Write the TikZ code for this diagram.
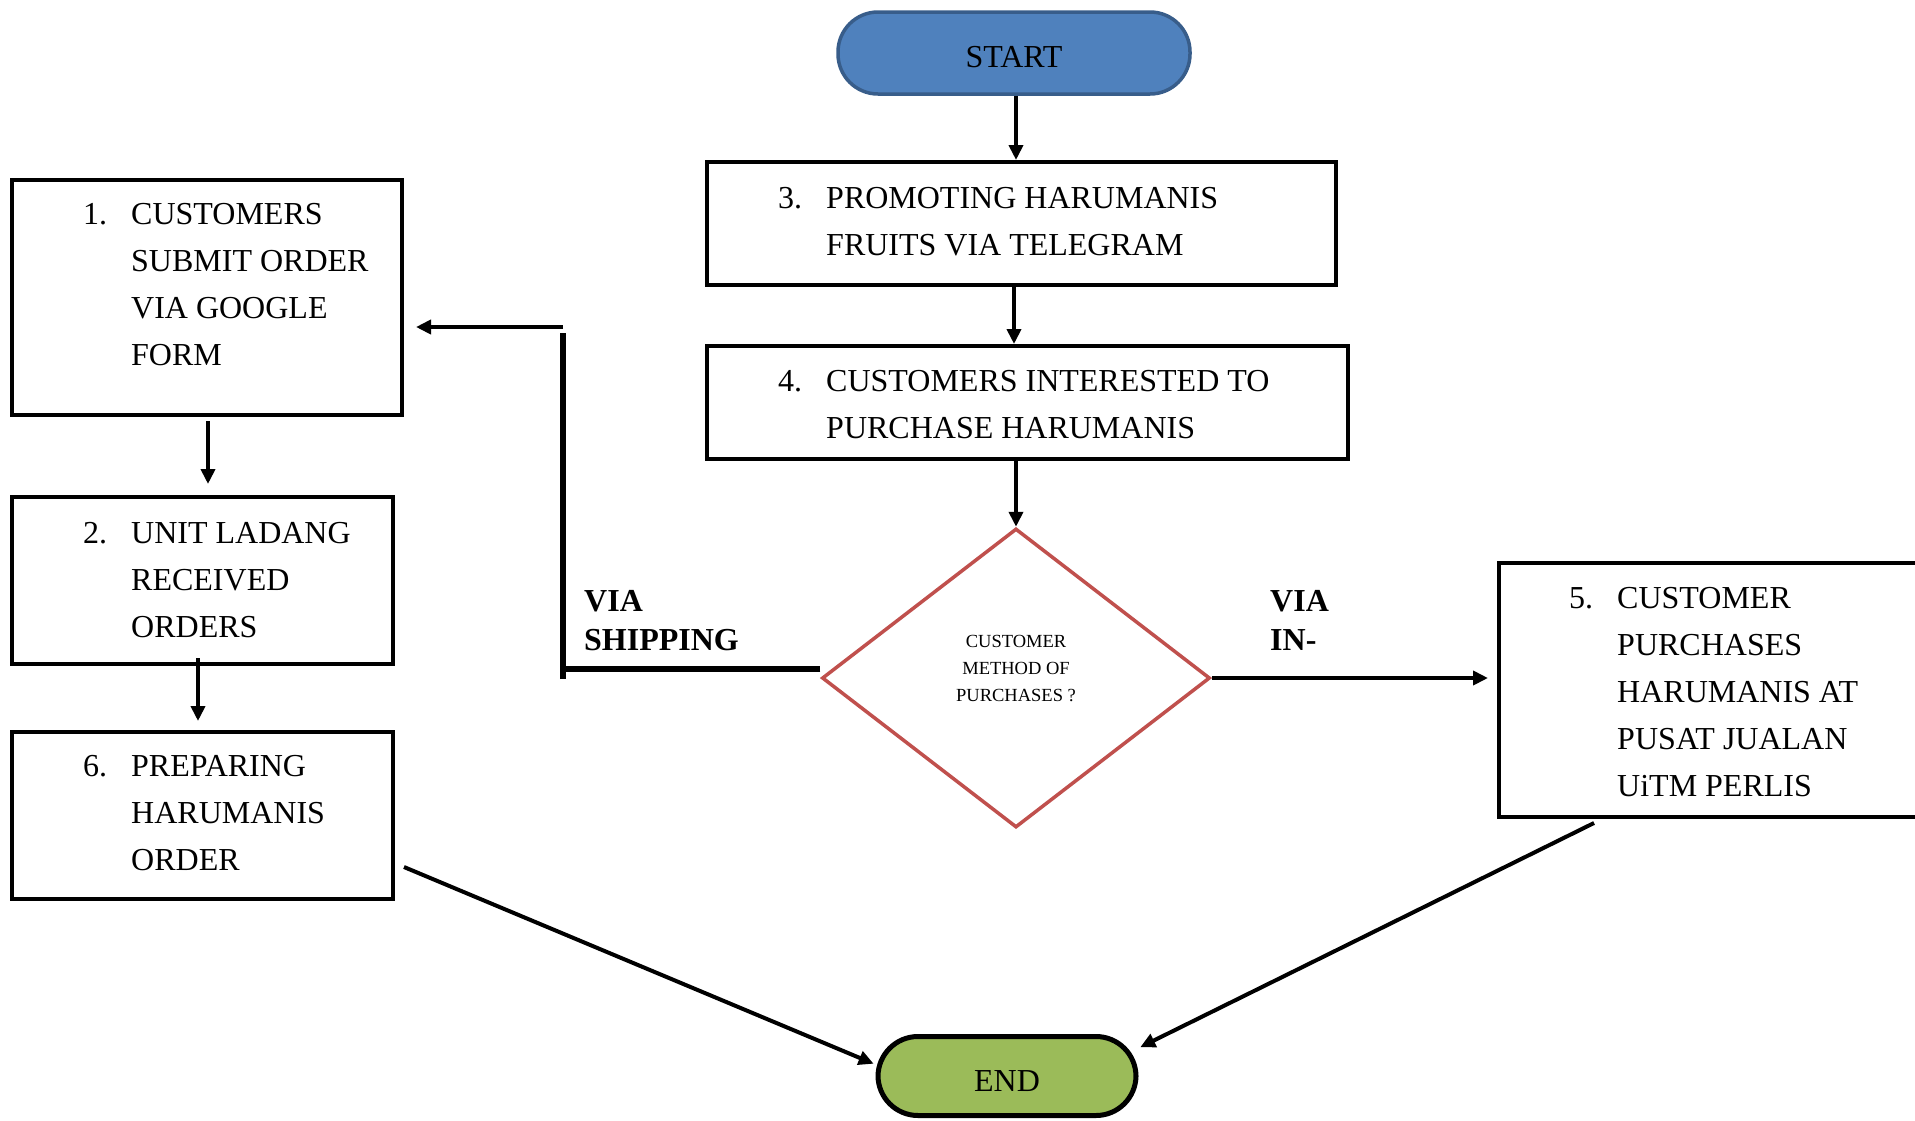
\documentclass[tikz,border=0pt]{standalone}
\usepackage{fontspec}
\setmainfont{Liberation Serif}
\usetikzlibrary{arrows.meta,shapes.geometric,calc}
\begin{document}
\begin{tikzpicture}[x=1pt,y=-1pt,
  box/.style={draw, line width=4pt, inner sep=0pt},
  txt/.style={inner sep=0pt, font=\fontsize{32}{47}\selectfont},
  lbl/.style={inner sep=0pt, font=\fontsize{32}{39}\selectfont\bfseries},
  arr/.style={draw, line width=4pt, -{Triangle[length=15pt,width=14pt]}},
  thickline/.style={draw, line width=6.5pt},
  term/.style={rounded corners=40pt, inner sep=0pt, font=\fontsize{32}{38}\selectfont}]
\clip (0,0) rectangle (1915,1120);
\fill[white] (0,0) rectangle (1915,1120);

% terminals
\node[term, draw={rgb,255:red,56;green,93;blue,138}, fill={rgb,255:red,79;green,129;blue,189}, line width=3.5pt, minimum width=352pt, minimum height=82pt] (start) at (1014,53) {};
\node[inner sep=0pt, font=\fontsize{32}{38}\selectfont] (startt) at (1014,57) {START};
\node[term, draw=black, fill={rgb,255:red,155;green,187;blue,89}, line width=5pt, minimum width=258pt, minimum height=79pt] (end) at (1007,1076) {};
\node[inner sep=0pt, font=\fontsize{32}{38}\selectfont] (endt) at (1007,1081) {END};

% process boxes
\node[box, minimum width=390pt, minimum height=235pt] (box1) at (207,297.5) {};
\node[box, minimum width=381pt, minimum height=167pt] (box2) at (202.5,580.5) {};
\node[box, minimum width=381pt, minimum height=167pt] (box6) at (202.5,815.5) {};
\node[box, minimum width=629pt, minimum height=123pt] (box3) at (1021.5,223.5) {};
\node[box, minimum width=641pt, minimum height=113pt] (box4) at (1027.5,402.5) {};
\node[box, minimum width=431pt, minimum height=254pt] (box5) at (1714.5,690) {};

% decision
\node[diamond, draw={rgb,255:red,192;green,80;blue,77}, line width=3.5pt, inner sep=0pt, minimum width=388pt, minimum height=299pt] (dia) at (1016,678) {};
\node[inner sep=0pt, align=center, font=\fontsize{18.5}{27}\selectfont] (diat) at (1016,668) {CUSTOMER\\METHOD OF\\PURCHASES ?};

% box texts
\node[txt, anchor=base west] (t1) at (83,224) {\begin{tabular}[t]{@{}l@{}l@{}}\makebox[48pt][l]{1.}&CUSTOMERS\\&SUBMIT ORDER\\&VIA GOOGLE\\&FORM\end{tabular}};
\node[txt, anchor=base west] (t2) at (83,543) {\begin{tabular}[t]{@{}l@{}l@{}}\makebox[48pt][l]{2.}&UNIT LADANG\\&RECEIVED\\&ORDERS\end{tabular}};
\node[txt, anchor=base west] (t6) at (83,776) {\begin{tabular}[t]{@{}l@{}l@{}}\makebox[48pt][l]{6.}&PREPARING\\&HARUMANIS\\&ORDER\end{tabular}};
\node[txt, anchor=base west] (t3) at (778,208) {\begin{tabular}[t]{@{}l@{}l@{}}\makebox[48pt][l]{3.}&PROMOTING HARUMANIS\\&FRUITS VIA TELEGRAM\end{tabular}};
\node[txt, anchor=base west] (t4) at (778,391) {\begin{tabular}[t]{@{}l@{}l@{}}\makebox[48pt][l]{4.}&CUSTOMERS INTERESTED TO\\&PURCHASE HARUMANIS\end{tabular}};
\node[txt, anchor=base west] (t5) at (1569,608) {\begin{tabular}[t]{@{}l@{}l@{}}\makebox[48pt][l]{5.}&CUSTOMER\\&PURCHASES\\&HARUMANIS AT\\&PUSAT JUALAN\\&UiTM PERLIS\end{tabular}};

% branch labels
\node[lbl, anchor=base west] (l1) at (584,611) {\begin{tabular}[t]{@{}l@{}}VIA\\SHIPPING\end{tabular}};
\node[lbl, anchor=base west] (l2) at (1270,611) {\begin{tabular}[t]{@{}l@{}}VIA\\IN-\end{tabular}};

% connectors
\draw[arr] ([xshift=2pt]start.south) -- ([xshift=2pt]start.south |- box3.north);
\draw[arr] ([xshift=-7.5pt]box3.south) -- ([xshift=-7.5pt]box3.south |- box4.north);
\draw[arr] (box4.south -| dia.north) -- (dia.north);
\draw[arr, shorten >=9pt] (dia.east) -- (dia.east -| box5.west);

\coordinate (c1) at (563,669);
\coordinate (c2) at (563,333);
\coordinate (c3) at (563,327);
\draw[thickline] (dia.west |- c1) -- (c1);
\draw[thickline] ([yshift=-10pt]c1) -- (c2);
\draw[arr, shorten >=12pt] (c3) -- (box1.east |- c3);

\draw[arr, shorten >=11pt] ([xshift=1pt,yshift=-4pt]box1.south) -- ([xshift=1pt]box1.south |- box2.north);
\draw[arr] ([xshift=-4.5pt,yshift=8pt]box2.south) -- ([xshift=-4.5pt,yshift=9pt]box6.north);

\draw[arr, shorten >=2pt] ([shift={(9,51.5)}]box6.east) -- (end.175);
\draw[arr, shorten >=2pt] ([shift={(97,4)}]box5.south west) -- (end.12);
\end{tikzpicture}
\end{document}
